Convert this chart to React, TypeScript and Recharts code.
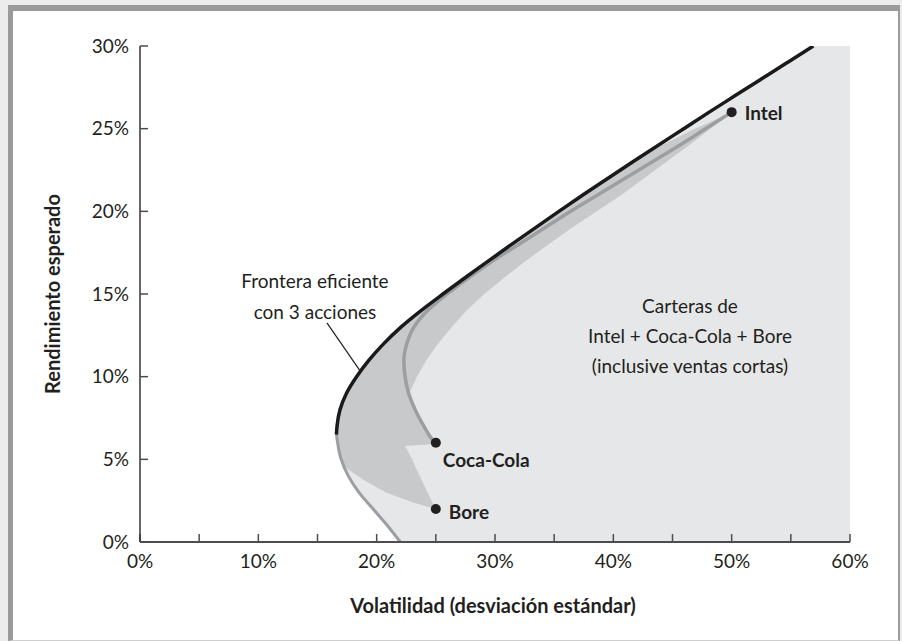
import React from 'react';
import {
    ComposedChart,
    XAxis,
    YAxis,
    Area,
    Line,
    Scatter,
    ReferenceLine
} from 'recharts';

// expected return (%) and volatility (%)
const frontierMu = [0, 1, 2, 3, 4, 5, 6, 6.5, 7, 8, 9, 10, 11, 12, 13, 14, 15, 16, 17, 18, 19, 20, 21, 22, 23, 24, 25, 26, 27, 28, 29, 30];
const frontierSigma = [22.0, 20.9, 19.7, 18.5, 17.6, 17.0, 16.7, 16.6, 16.65, 16.9, 17.45, 18.3, 19.35, 20.6, 22.05, 23.75, 25.6, 27.5, 29.45, 31.4, 33.4, 35.4, 37.45, 39.55, 41.65, 43.8, 45.95, 48.1, 50.3, 52.5, 54.7, 56.9];

const intelCokeMu = [6, 6.5, 7, 7.5, 8, 9, 10, 11, 12, 13, 14, 15, 16, 17, 18, 19, 20, 21, 22, 23, 24, 25, 26];
const intelCokeSigma = [24.9, 24.4, 24.0, 23.6, 23.25, 22.7, 22.4, 22.3, 22.55, 23.15, 24.3, 25.95, 27.8, 29.8, 32.0, 34.2, 36.4, 38.7, 41.0, 43.3, 45.6, 47.8, 50.0];

// portfolios without short sales: left / right volatility at each return
const longOnlyMu = [2, 2.4, 3, 3.75, 4.5, 5, 5.8, 5.9, 6, 6.5, 7, 7.5, 8, 9, 10, 11, 12, 13, 14, 15, 16, 17, 18, 19, 20, 21, 22, 23, 24, 25, 26];
const longOnlyLeft = [25.0, 23.0, 20.8, 18.9, 17.35, 17.0, 16.7, 16.7, 16.7, 16.6, 16.65, 16.75, 16.9, 17.45, 18.3, 19.35, 20.6, 22.05, 23.75, 25.6, 27.5, 29.45, 31.4, 33.4, 35.4, 37.45, 39.55, 41.7, 44.1, 46.9, 50.0];
const longOnlyRight = [25.0, 24.7, 24.3, 23.8, 23.3, 23.0, 22.4, 24.3, 24.9, 24.4, 24.0, 23.6, 23.25, 22.75, 23.4, 24.2, 25.2, 26.35, 27.6, 29.1, 30.8, 32.6, 34.5, 36.5, 38.6, 40.7, 42.6, 44.5, 46.4, 48.2, 50.0];

const stockNames = ['Intel', 'Coca-Cola', 'Bore'];
const stockMu = [26, 6, 2];
const stockSigma = [50, 25, 25];

const xTicks = [0, 5, 10, 15, 20, 25, 30, 35, 40, 45, 50, 55, 60];
const yTicks = [0, 5, 10, 15, 20, 25, 30];
const sigmaMax = 60;

const frontierData = frontierMu.map((mu, i) => ({ mu, sigma: frontierSigma[i], range: [frontierSigma[i], sigmaMax] }));
const lowerBranch = frontierData.filter(d => d.mu <= 6.5);
const upperBranch = frontierData.filter(d => d.mu >= 6.5);
const intelCokeData = intelCokeMu.map((mu, i) => ({ mu, sigma: intelCokeSigma[i] }));
const longOnlyData = longOnlyMu.map((mu, i) => ({ mu, range: [longOnlyLeft[i], longOnlyRight[i]] }));
const stockData = stockNames.map((name, i) => ({ name, mu: stockMu[i], sigma: stockSigma[i] }));

const FONT = 'Lato, "Open Sans", sans-serif';
const INK = '#231f20';

const labelOffset: Record<string, { dx: number; dy: number }> = {
    'Intel': { dx: 13, dy: 0 },
    'Coca-Cola': { dx: 7, dy: 17 },
    'Bore': { dx: 13, dy: 3 },
};

const StockDot = (props: any) => {
    const { cx, cy, payload } = props;
    const off = labelOffset[payload.name];
    return (
        <g>
            <circle cx={cx} cy={cy} r={5} fill={INK} />
            <text x={cx + off.dx} y={cy + off.dy} dominantBaseline="central"
                fontFamily={FONT} fontSize={19} fontWeight={700} fill={INK}>{payload.name}</text>
        </g>
    );
};

export default function App() {
    return (
        <div style={{ position: 'absolute', left: 0, top: 0, width: 902, height: 641, background: '#ececec', overflow: 'hidden' }}>
            <div style={{
                position: 'absolute', left: 8, top: 5, width: 885, height: 629,
                background: 'white',
                borderLeft: '5px solid #9a9a9c',
                borderTop: '6px solid #9a9a9c',
                borderRight: '2px solid #9a9a9c',
                borderBottom: '1px solid #cfcfcf'
            }} />
            <div style={{ position: 'absolute', left: 0, top: 0 }}>
                <ComposedChart
                    width={902}
                    height={641}
                    layout="vertical"
                    margin={{ top: 46, right: 52, bottom: 59, left: 80 }}
                >
                    <XAxis
                        type="number"
                        domain={[0, 60]}
                        ticks={xTicks}
                        interval={0}
                        allowDataOverflow
                        tickFormatter={(v) => (v % 10 === 0 ? `${v}%` : '')}
                        height={40}
                        tickSize={-8}
                        tickMargin={21}
                        axisLine={{ stroke: '#4d4d4f', strokeWidth: 2 }}
                        tickLine={{ stroke: '#4d4d4f', strokeWidth: 1.5 }}
                        tick={{ fill: INK, fontSize: 19, fontFamily: FONT }}
                    />
                    <YAxis
                        type="number"
                        dataKey="mu"
                        domain={[0, 30]}
                        ticks={yTicks}
                        interval={0}
                        reversed
                        allowDataOverflow
                        tickFormatter={(v) => `${v}%`}
                        width={60}
                        tickSize={-8}
                        tickMargin={19}
                        axisLine={{ stroke: '#333', strokeWidth: 1.5 }}
                        tickLine={{ stroke: '#4d4d4f', strokeWidth: 1.5 }}
                        tick={{ fill: INK, fontSize: 19, fontFamily: FONT }}
                    />
                    <Area data={frontierData} dataKey="range" type="monotone" stroke="none"
                        fill="#e6e7e8" fillOpacity={1} isAnimationActive={false} />
                    <Area data={longOnlyData} dataKey="range" type="linear" stroke="none"
                        fill="#c8c9cb" fillOpacity={1} isAnimationActive={false} />
                    <Line data={lowerBranch} dataKey="sigma" type="monotone" stroke="#9c9ea1"
                        strokeWidth={3} dot={false} isAnimationActive={false} />
                    <Line data={intelCokeData} dataKey="sigma" type="monotone" stroke="#9c9ea1"
                        strokeWidth={3.5} dot={false} isAnimationActive={false} />
                    <Line data={upperBranch} dataKey="sigma" type="monotone" stroke="#1a1a1a"
                        strokeWidth={3.5} dot={false} isAnimationActive={false} />
                    <ReferenceLine segment={[{ x: 15.8, y: 13.25 }, { x: 18.6, y: 10.35 }]}
                        stroke={INK} strokeWidth={1.2} />
                    <Scatter data={stockData} dataKey="sigma" shape={StockDot} isAnimationActive={false} />
                </ComposedChart>
            </div>
            <div style={{
                position: 'absolute', left: 115, top: 265, width: 400, textAlign: 'center',
                fontFamily: FONT, fontSize: 19, lineHeight: '31px', color: INK
            }}>
                Frontera eficiente<br />con 3 acciones
            </div>
            <div style={{
                position: 'absolute', left: 490, top: 291, width: 400, textAlign: 'center',
                fontFamily: FONT, fontSize: 19, lineHeight: '30px', color: INK
            }}>
                Carteras de<br />Intel + Coca-Cola + Bore<br />(inclusive ventas cortas)
            </div>
            <div style={{
                position: 'absolute', left: 293, top: 590, width: 400, textAlign: 'center',
                fontFamily: FONT, fontSize: 20, fontWeight: 700, lineHeight: '30px', color: INK
            }}>
                Volatilidad (desviación estándar)
            </div>
            <div style={{
                position: 'absolute', left: 52 - 150, top: 294 - 15, width: 300, textAlign: 'center',
                transform: 'rotate(-90deg)',
                fontFamily: FONT, fontSize: 20, fontWeight: 700, lineHeight: '30px', color: INK
            }}>
                Rendimiento esperado
            </div>
        </div>
    );
}
